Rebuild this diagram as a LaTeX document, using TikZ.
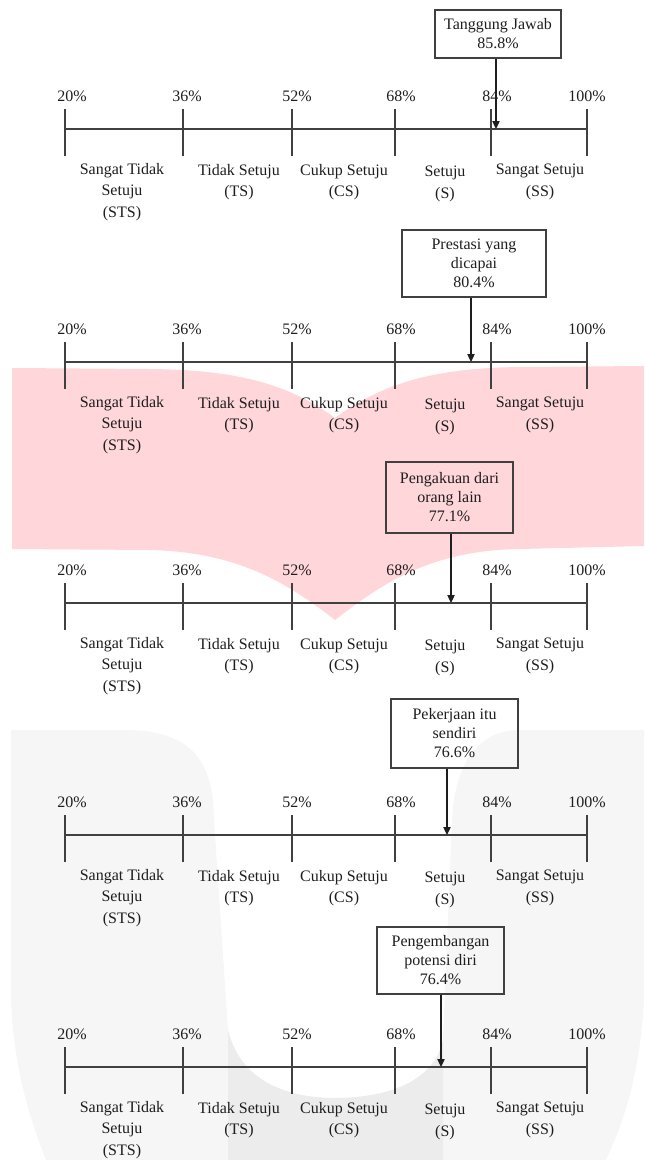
\documentclass[tikz,border=0pt]{standalone}
\usepackage{fontspec}
\setmainfont{Liberation Serif}
\usetikzlibrary{arrows.meta}
\definecolor{wmpink}{RGB}{255,214,218}
\definecolor{wmgray}{RGB}{246,246,246}
\definecolor{wmbar}{RGB}{236,236,236}
\definecolor{ink}{RGB}{30,30,30}
\tikzset{
  axisline/.style={draw=ink!85, line width=1.1pt},
  tickline/.style={draw=ink!85, line width=0.9pt},
  pct/.style={inner sep=0pt, text=ink, font=\fontsize{12}{14}\selectfont},
  cat/.style={inner sep=0pt, align=center, text=ink, font=\fontsize{12}{16}\selectfont},
  scorebox/.style={draw=ink!85, line width=0.9pt, inner sep=0pt, align=center, text=ink, font=\fontsize{12}{14.25}\selectfont},
  pointer/.style={draw=ink, line width=0.9pt, -{Triangle[length=6pt,width=5.5pt]}}
}
% #1 id, #2 axis y, #3 arrow x, #4 box centre, #5 unused, #6 box width, #7 box height, #8 box text
\newcommand{\likertpanel}[8]{%
  \coordinate (#1L) at (65,#2);
  \coordinate (#1R) at (587,#2);
  \draw[axisline] (#1L) -- (#1R);
  \foreach \tx in {65,183,292,395,491,587} \draw[tickline] (\tx,{#2-20}) -- (\tx,{#2+27});
  \foreach \px/\pl [count=\k] in {72/20,187/36,297/52,401/68,497/84,587/100}
    \node[pct] (#1p\k) at (\px,{#2-33}) {\pl\%};
  \node[cat] (#1sts) at (122,{#2+63}) {Sangat Tidak\\Setuju\\(STS)};
  \node[cat] (#1ts) at (239,{#2+53}) {Tidak Setuju\\(TS)};
  \node[cat] (#1cs) at (344,{#2+53}) {Cukup Setuju\\(CS)};
  \node[cat] (#1s) at (445,{#2+55}) {Setuju\\(S)};
  \node[cat] (#1ss) at (540,{#2+53}) {Sangat Setuju\\(SS)};
  \node[scorebox, minimum width=#6, minimum height=#7] (#1box) at (#4) {#8};
  \coordinate (#1tip) at (#3,#2);
  \draw[pointer] (#1box.south -| #1tip) -- (#1tip);
}
\begin{document}
\begin{tikzpicture}[x=0.75pt, y=-0.75pt]
\useasboundingbox (0,0) rectangle (644,1160);
% watermark: pink chevron
\fill[wmpink] (12,368) -- (150,369) .. controls (240,370) and (290,385) .. (335,418)
  .. controls (380,385) and (430,368) .. (520,367) -- (644,366) -- (644,546) -- (520,549)
  .. controls (430,550) and (380,585) .. (335,620)
  .. controls (290,585) and (240,552) .. (150,550) -- (12,549) -- cycle;
% watermark: grey U
\fill[wmgray] (11,730) -- (125,730) .. controls (190,730) and (214,760) .. (214,820)
  -- (228,1030) .. controls (240,1080) and (285,1098) .. (335,1098)
  .. controls (390,1098) and (435,1080) .. (443,1040) -- (452,820)
  .. controls (455,760) and (480,730) .. (520,730) -- (644,730) -- (644,1000)
  .. controls (640,1080) and (620,1130) .. (606,1160) -- (46,1160)
  .. controls (30,1120) and (11,1060) .. (11,990) -- cycle;
\fill[wmbar] (228,1030) .. controls (240,1080) and (285,1098) .. (335,1098)
  .. controls (390,1098) and (435,1080) .. (443,1040) -- (443,1160) -- (228,1160) -- cycle;
% panels
\likertpanel{a}{129}{496}{498,34}{}{94.5pt}{36pt}{Tanggung Jawab\\85.8\%}
\likertpanel{b}{362}{471}{474,263.5}{}{108pt}{50.25pt}{Prestasi yang\\dicapai\\80.4\%}
\likertpanel{c}{603}{451}{449.5,497.5}{}{95.25pt}{53.25pt}{Pengakuan dari\\orang lain\\77.1\%}
\likertpanel{d}{835}{447}{454.5,733.5}{}{95.25pt}{51.75pt}{Pekerjaan itu\\sendiri\\76.6\%}
\likertpanel{e}{1067}{441}{440.5,960.5}{}{95.25pt}{50.25pt}{Pengembangan\\potensi diri\\76.4\%}
\end{tikzpicture}
\end{document}
